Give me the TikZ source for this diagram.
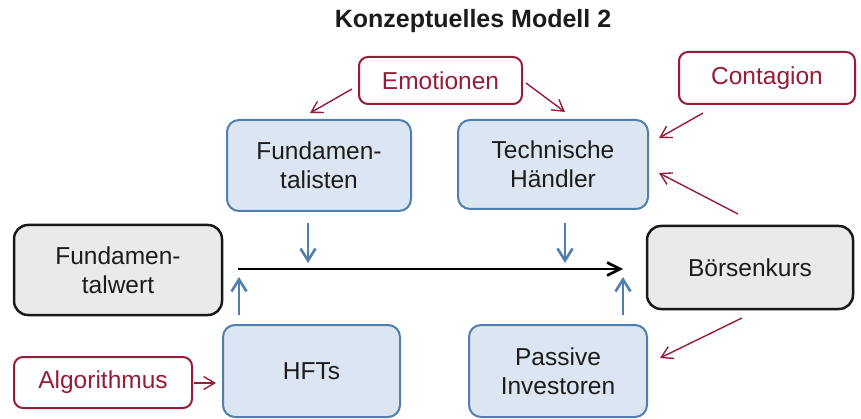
\documentclass[tikz,border=0pt]{standalone}
\usepackage{fontspec}
\setmainfont{Liberation Sans}
\usetikzlibrary{arrows.meta}
\definecolor{burg}{RGB}{150,28,58}
\definecolor{bluefill}{RGB}{220,230,242}
\definecolor{blueline}{RGB}{80,126,174}
\definecolor{greyfill}{RGB}{234,234,234}
\definecolor{txt}{RGB}{28,28,28}

\begin{document}
\begin{tikzpicture}[x=1pt,y=-1pt,
  box/.style={rounded corners=12pt, align=center, inner sep=0pt,
    font=\fontsize{24.5}{29}\selectfont, text=txt},
  actor/.style={box, draw=blueline, fill=bluefill, line width=2pt},
  market/.style={box, draw=black!90, fill=greyfill, line width=2.5pt, rounded corners=14pt},
  factor/.style={box, draw=burg, fill=white, text=burg, line width=2pt, rounded corners=9pt},
  redarrow/.style={draw=burg, line width=1.4pt, -{Straight Barb[length=11pt,width=13pt]}},
  bluearrow/.style={draw=blueline, line width=2.6pt, -{Straight Barb[length=12pt,width=15pt]}},
  mainarrow/.style={draw=black, line width=2.6pt, -{Straight Barb[length=13pt,width=13pt]}}
]
\useasboundingbox[fill=white] (0,0) rectangle (861,419);

% title
\node[font=\fontsize{25}{29}\selectfont\bfseries, text=txt] (title) at (473,21) {Konzeptuelles Modell 2};

% influencing factors
\node[factor, minimum width=163pt, minimum height=47pt] (emo) at (440.5,80.5) {Emotionen};
\node[factor, minimum width=176pt, minimum height=52pt] (cont) at (767,78) {Contagion};
\node[factor, minimum width=178pt, minimum height=51pt] (algo) at (103,382.5) {Algorithmus};

% market participants
\node[actor, minimum width=184pt, minimum height=91pt] (fund) at (319,165.5) {Fundamen-\\talisten};
\node[actor, minimum width=190pt, minimum height=89pt] (tech) at (553,164.5) {Technische\\Händler};
\node[actor, minimum width=177pt, minimum height=92pt] (hft) at (311.5,371) {HFTs};
\node[actor, minimum width=178pt, minimum height=92pt] (pass) at (558,371) {Passive\\Investoren};

% prices
\node[market, minimum width=208pt, minimum height=90pt] (fwert) at (118,270) {Fundamen-\\talwert};
\node[market, minimum width=206pt, minimum height=83pt] (boerse) at (750,267.5) {Börsenkurs};

% arrow end points
\coordinate (emoL0) at (352,89);   \coordinate (emoL1) at (310,113);
\coordinate (emoR0) at (526,83);   \coordinate (emoR1) at (565,112);
\coordinate (cont0) at (703,113);  \coordinate (cont1) at (659,138);
\coordinate (bkT0) at (738,214);   \coordinate (bkT1) at (659,173);
\coordinate (bkP0) at (742,318);   \coordinate (bkP1) at (660,358);
\coordinate (alg0) at (194,383);   \coordinate (alg1) at (216,383);
\coordinate (fu0) at (308,223);    \coordinate (fu1) at (308,263);
\coordinate (te0) at (565,223);    \coordinate (te1) at (565,263);
\coordinate (hf0) at (239,315);    \coordinate (hf1) at (239,277);
\coordinate (pa0) at (623,315);    \coordinate (pa1) at (623,277);
\coordinate (m0) at (238,269);     \coordinate (m1) at (623,269);

% main price path
\draw[mainarrow] (m0) -- (m1);

% effects of the participants
\draw[bluearrow] (fu0) -- (fu1);
\draw[bluearrow] (te0) -- (te1);
\draw[bluearrow] (hf0) -- (hf1);
\draw[bluearrow] (pa0) -- (pa1);

% influences
\draw[redarrow] (emoL0) -- (emoL1);
\draw[redarrow] (emoR0) -- (emoR1);
\draw[redarrow] (cont0) -- (cont1);
\draw[redarrow] (bkT0) -- (bkT1);
\draw[redarrow] (bkP0) -- (bkP1);
\draw[redarrow] (alg0) -- (alg1);
\end{tikzpicture}
\end{document}
